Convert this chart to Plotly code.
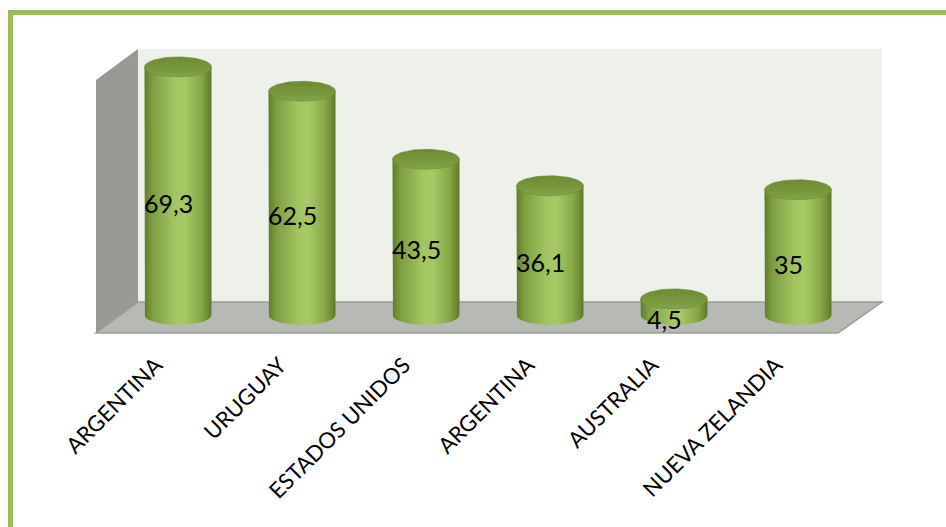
import plotly.graph_objects as go
import numpy as np

# Data
countries = ["ARGENTINA", "URUGUAY", "ESTADOS UNIDOS", "ARGENTINA", "AUSTRALIA", "NUEVA ZELANDIA"]
values = [69.3, 62.5, 43.5, 36.1, 4.5, 35]

W, H = 946, 527
PLOT_H = 333                 # plot area height in px (floor front edge)
PX_PER_UNIT_Y = 3.58
PX_PER_CAT = 124.0
FIRST_CAT_PX = 178.0

y_min = -18 / PX_PER_UNIT_Y
y_max = y_min + PLOT_H / PX_PER_UNIT_Y
x_min = -FIRST_CAT_PX / PX_PER_CAT
x_max = x_min + W / PX_PER_CAT

cyl_w = 67 / PX_PER_CAT            # cylinder width in category units
ry = 10 / PX_PER_UNIT_Y            # ellipse half-height in value units

def px(x):
    return x / W

def py(y):
    return (PLOT_H - y) / PLOT_H

fig = go.Figure()

# cylinders
t_half = np.linspace(np.pi, 2 * np.pi, 40)
t_full = np.linspace(0, 2 * np.pi, 80)
body_scale = [[0, "#5f7d2a"], [0.12, "#7e9e41"], [0.45, "#a3c562"],
              [0.6, "#a6c865"], [0.85, "#87a747"], [1, "#5c7a28"]]
top_scale = [[0, "#84a448"], [0.5, "#77963c"], [1, "#6d8a35"]]

for i, (name, v) in enumerate(zip(countries, values)):
    xl, xr = i - cyl_w / 2, i + cyl_w / 2
    bx = list(i + (cyl_w / 2) * np.cos(t_half))
    by = list(ry * np.sin(t_half))
    xs = [xl] + bx + [xr, xr, xl]
    ys = [v] + by + [v, v, v]
    fig.add_trace(go.Scatter(
        x=xs, y=ys, mode="lines", fill="toself", line=dict(width=0),
        fillgradient=dict(type="horizontal", colorscale=body_scale, start=xl, stop=xr),
        hoverinfo="skip", showlegend=False))
    fig.add_trace(go.Scatter(
        x=list(i + (cyl_w / 2) * np.cos(t_full)),
        y=list(v + ry * np.sin(t_full)),
        mode="lines", fill="toself", line=dict(width=0.6, color="#6d8a35"),
        fillgradient=dict(type="vertical", colorscale=top_scale, start=v - ry, stop=v + ry),
        hoverinfo="skip", showlegend=False))
    fig.add_annotation(
        x=i, y=v / 2, xref="x", yref="y", text=f"{v:g}".replace(".", ","),
        showarrow=False, xshift=-10, yshift=-12,
        font=dict(family="Lato", size=25, color="#000000"))

shapes = []
# green frame
shapes.append(dict(type="rect", xref="paper", yref="paper",
                   x0=px(10.5), x1=px(W + 20), y0=py(12.5), y1=py(H + 20),
                   line=dict(color="#9bbb59", width=5), fillcolor="rgba(0,0,0,0)", layer="below"))
# back wall
shapes.append(dict(type="rect", xref="paper", yref="paper",
                   x0=px(138), x1=px(882), y0=py(49), y1=py(302),
                   line=dict(width=0), fillcolor="#eef1ea", layer="below"))
# left wall
shapes.append(dict(type="path", xref="paper", yref="paper",
                   path=f"M {px(96)} {py(80)} L {px(138)} {py(49)} L {px(138)} {py(302)} L {px(96)} {py(333)} Z",
                   line=dict(width=0), fillcolor="#979a93", layer="below"))
# floor
shapes.append(dict(type="path", xref="paper", yref="paper",
                   path=f"M {px(96)} {py(333)} L {px(138)} {py(302)} L {px(882)} {py(302)} L {px(838)} {py(333)} Z",
                   line=dict(width=1.5, color="#9a9c98"), fillcolor="#b7b9b4", layer="below"))

fig.update_layout(
    width=W, height=H,
    margin=dict(l=0, r=0, t=0, b=H - PLOT_H),
    paper_bgcolor="#ffffff", plot_bgcolor="rgba(0,0,0,0)",
    shapes=shapes,
    xaxis=dict(range=[x_min, x_max], tickmode="array", tickvals=list(range(len(countries))),
               ticktext=countries, tickangle=-45, showgrid=False, zeroline=False,
               showline=False, ticks="", ticklabelshift=-22, ticklabelstandoff=14,
               tickfont=dict(family="Lato", size=22, color="#000000")),
    yaxis=dict(range=[y_min, y_max], showgrid=False, zeroline=False, showline=False,
               showticklabels=False, ticks=""),
)

fig.write_html("out.html")
